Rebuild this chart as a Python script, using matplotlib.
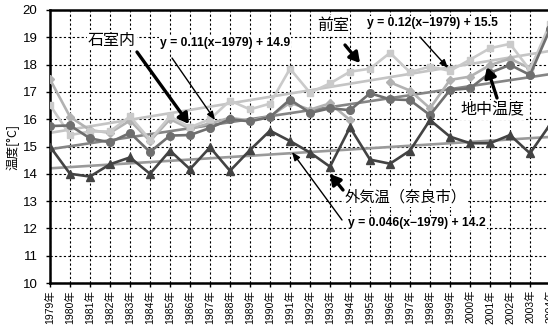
import numpy as np
import matplotlib
matplotlib.use("Agg")
import matplotlib.pyplot as plt

plt.rcParams['font.family'] = ['Liberation Sans', 'Noto Sans CJK JP', 'DejaVu Sans']

years = list(range(1979, 2005))
year_labels = [f"{y}年" for y in years]

# 外気温（奈良市）
outside = [15.0, 14.0, 13.9, 14.35, 14.6, 14.0, 14.85, 14.17, 14.97, 14.11,
           14.87, 15.58, 15.2, 14.78, 14.26, 15.7, 14.52, 14.37, 14.85, 15.97,
           15.36, 15.12, 15.12, 15.42, 14.75, 15.8]
# 石室内
chamber = [15.75, 15.77, 15.3, 15.15, 15.5, 14.8, 15.4, 15.42, 15.68, 16.0,
           15.92, 16.08, 16.72, 16.23, 16.4, 16.33, 16.95, 16.73, 16.7, 16.15,
           17.07, 17.13, 17.7, 17.99, 17.62, 19.3]
# 前室
antechamber = [16.52, 15.42, 15.55, 15.55, 16.1, 15.25, 16.1, 15.7, 16.0, 16.68,
               16.36, 16.57, 17.85, 16.97, 17.31, 17.74, 17.85, 18.43, 17.72, 17.93,
               17.77, 18.18, 18.6, 18.76, 17.8, 19.5]
# 地中温度
ground = [17.46, 16.09, 15.6, 15.5, 15.95, 15.2, 16.0, 15.65, 15.85, 16.05,
          15.95, 16.1, 16.6, 16.35, 16.58, 15.97, np.nan, 17.35, 17.05, 16.4,
          17.44, 17.56, 17.98, 18.22, 17.86, 19.3]

# trend line coefficients (slope, intercept at 1979)
trend_ante = (0.12, 15.5)
trend_chamber = (0.11, 14.9)
trend_outside = (0.046, 14.2)

fig = plt.figure(figsize=(5.48, 3.29), dpi=100)
ax = fig.add_axes([50/548, 46/329, 520/548, 273/329])

x = np.array(years)
xt = np.array([1979, 2005])

c_out = '#434343'
c_ch = '#6f6f6f'
c_an = '#cacaca'
c_gr = '#b2b2b2'

# trend lines
ax.plot(xt, trend_ante[1] + trend_ante[0]*(xt-1979), color='#c4c4c4', lw=1.9, zorder=2)
ax.plot(xt, trend_chamber[1] + trend_chamber[0]*(xt-1979), color='#858585', lw=1.9, zorder=2)
ax.plot(xt, trend_outside[1] + trend_outside[0]*(xt-1979), color='#9a9a9a', lw=1.9, zorder=2)

ax.plot(x, ground, color=c_gr, lw=1.9, marker='D', ms=4.5, zorder=3)
ax.plot(x, antechamber, color=c_an, lw=1.9, marker='s', ms=4.5, zorder=3)
ax.plot(x, chamber, color=c_ch, lw=1.9, marker='o', ms=5.5, zorder=4)
ax.plot(x, outside, color=c_out, lw=1.9, marker='^', ms=5.5, zorder=4)

ax.set_xlim(1979, 2005)
ax.set_ylim(10, 20)
ax.set_xticks(years)
ax.set_xticklabels(year_labels, rotation=90, fontsize=7.5,
                   family=['Liberation Sans', 'Noto Sans CJK JP'])
ax.set_yticks(range(10, 21))
ax.tick_params(axis='y', labelsize=9.5, length=3, width=1, direction='out', pad=6)
ax.tick_params(axis='x', length=3, width=1, direction='out', pad=2)
ax.grid(True, color='black', linestyle=(0, (2, 2)), lw=0.8)
ax.set_axisbelow(True)
for s in ax.spines.values():
    s.set_linewidth(1.8)
    s.set_color('black')

ax.set_ylabel('温度[°C]', fontsize=9, family=['Noto Sans CJK JP'], labelpad=2)

def px(xp, yp):
    return (1979 + (xp - 50) / 20.0, 20 - (yp - 10) / 27.3)

jp = ['Noto Sans CJK JP']
box = dict(facecolor='white', edgecolor='none', pad=1.0)
thick = dict(arrowstyle='-|>,head_length=0.6,head_width=0.35', color='black', lw=2.4,
             shrinkA=0, shrinkB=0)
thin = dict(arrowstyle='-|>,head_length=0.5,head_width=0.2', color='black', lw=1.0,
            shrinkA=0, shrinkB=0)

def label(xy, s, **kw):
    ax.text(*xy, s, bbox=box, zorder=6, **kw)

def arrow(tip, tail, props):
    ax.annotate('', xy=tip, xytext=tail, arrowprops=props, zorder=7)

label(px(112, 40), '石室内', fontsize=11.5, family=jp, ha='center', va='center')
arrow(px(189, 124), px(137, 52), thick)

label(px(225, 43), 'y = 0.11(x−1979) + 14.9', fontsize=8.7, fontweight='bold',
      ha='center', va='center')
arrow(px(215, 120), px(172, 58), thin)

label(px(333, 25), '前室', fontsize=11.5, family=jp, ha='center', va='center')
arrow(px(360, 63), px(345, 45), thick)

label(px(432, 23), 'y = 0.12(x−1979) + 15.5', fontsize=8.7, fontweight='bold',
      ha='center', va='center')
arrow(px(448, 68), px(420, 37), thin)

label(px(492, 110), '地中温度', fontsize=11.5, family=jp, ha='center', va='center')
arrow(px(487, 67), px(497, 98), thick)

label(px(345, 197), '外気温（奈良市）', fontsize=11, family=jp, ha='left', va='center')
arrow(px(330, 174), px(343, 190), thick)

label(px(348, 223), 'y = 0.046(x−1979) + 14.2', fontsize=8.7, fontweight='bold',
      ha='left', va='center')
arrow(px(292, 152), px(342, 220), thin)

fig.savefig('out.png', dpi=100)
